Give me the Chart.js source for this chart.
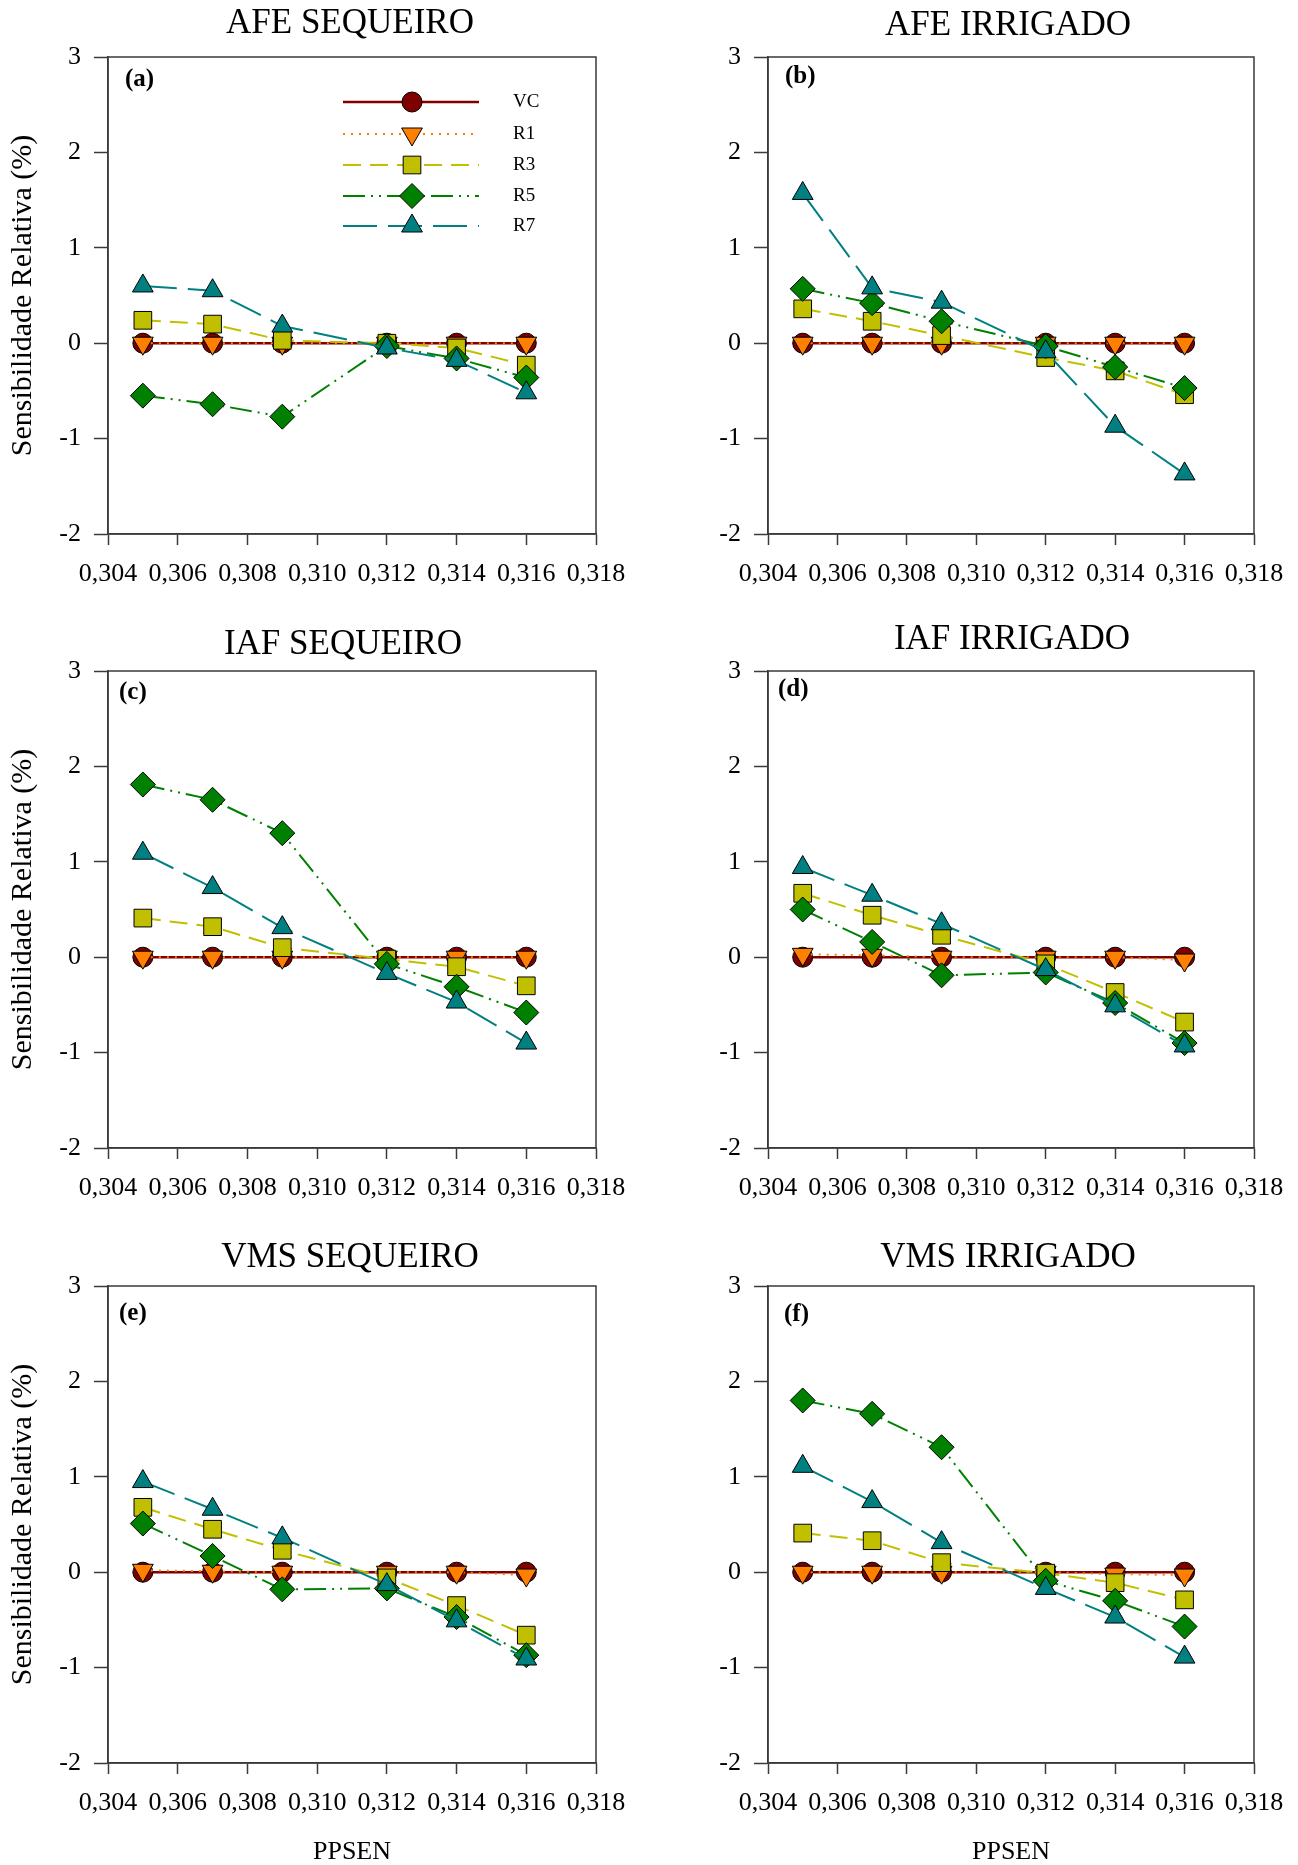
<!DOCTYPE html>
<html>
<head>
<meta charset="utf-8">
<script src="https://cdn.jsdelivr.net/npm/chart.js@4.4.1/dist/chart.umd.min.js"></script>
<style>
  html, body { margin: 0; padding: 0; background: #fff; }
  body { width: 1298px; height: 1865px; position: relative; overflow: hidden; }
  canvas { position: absolute; }
</style>
</head>
<body>
<canvas id="pa"></canvas>
<canvas id="pb"></canvas>
<canvas id="pc"></canvas>
<canvas id="pd"></canvas>
<canvas id="pe"></canvas>
<canvas id="pf"></canvas>
<script>
// PPSEN values and axis ticks
const xValues = [0.305, 0.307, 0.309, 0.312, 0.314, 0.316];
const xTicks = [0.304, 0.306, 0.308, 0.310, 0.312, 0.314, 0.316, 0.318];
const yTicks = [-2, -1, 0, 1, 2, 3];
const seriesNames = ['VC', 'R1', 'R3', 'R5', 'R7'];

// (a) AFE SEQUEIRO
const aVC = [0, 0, 0, 0, 0, 0];
const aR1 = [0, 0, 0, 0, 0, 0];
const aR3 = [0.24, 0.20, 0.03, 0.00, -0.05, -0.23];
const aR5 = [-0.55, -0.64, -0.77, -0.03, -0.16, -0.36];
const aR7 = [0.60, 0.55, 0.18, -0.05, -0.18, -0.52];

// (b) AFE IRRIGADO
const bVC = [0, 0, 0, 0, 0, 0];
const bR1 = [0, 0, 0, 0, 0, 0];
const bR3 = [0.36, 0.23, 0.08, -0.15, -0.29, -0.54];
const bR5 = [0.57, 0.42, 0.23, -0.03, -0.25, -0.47];
const bR7 = [1.57, 0.58, 0.43, -0.09, -0.87, -1.37];

// (c) IAF SEQUEIRO
const cVC = [0, 0, 0, 0, 0, 0];
const cR1 = [0, 0, 0, 0, 0, 0];
const cR3 = [0.41, 0.32, 0.10, -0.02, -0.10, -0.30];
const cR5 = [1.81, 1.65, 1.30, -0.07, -0.31, -0.58];
const cR7 = [1.09, 0.73, 0.31, -0.17, -0.47, -0.90];

// (d) IAF IRRIGADO
const dVC = [0, 0, 0, 0, 0, 0];
const dR1 = [0.03, 0.02, 0, 0, 0, -0.03];
const dR3 = [0.67, 0.44, 0.23, -0.07, -0.37, -0.68];
const dR5 = [0.50, 0.16, -0.19, -0.16, -0.48, -0.90];
const dR7 = [0.94, 0.65, 0.35, -0.13, -0.51, -0.93];

// (e) VMS SEQUEIRO
const eVC = [0, 0, 0, 0, 0, 0];
const eR1 = [0.02, 0.01, 0, 0, 0, -0.03];
const eR3 = [0.68, 0.45, 0.23, -0.06, -0.35, -0.66];
const eR5 = [0.51, 0.17, -0.18, -0.17, -0.47, -0.87];
const eR7 = [0.95, 0.66, 0.36, -0.13, -0.51, -0.91];

// (f) VMS IRRIGADO
const fVC = [0, 0, 0, 0, 0, 0];
const fR1 = [0, 0, 0, 0, -0.02, -0.03];
const fR3 = [0.41, 0.33, 0.10, -0.01, -0.11, -0.29];
const fR5 = [1.80, 1.66, 1.31, -0.09, -0.30, -0.57];
const fR7 = [1.11, 0.74, 0.31, -0.17, -0.47, -0.89];

const serif = "'Liberation Serif', 'Times New Roman', serif";
const frameColor = '#3a3a3a';

const seriesStyle = [
  { line: '#800000', fill: '#800000', dash: [], width: 2.5, point: 'circle', radius: 10, rot: 0 },
  { line: '#ff8000', fill: '#ff8000', dash: [2, 6], width: 2, point: 'triangle', radius: 12, rot: 180 },
  { line: '#c0c000', fill: '#c0c000', dash: [18, 9], width: 2, point: 'rect', radius: 12.5, rot: 0 },
  { line: '#008000', fill: '#008000', dash: [22, 6, 2, 6, 2, 6], width: 2, point: 'rectRot', radius: 12.5, rot: 0 },
  { line: '#008080', fill: '#008080', dash: [34, 11], width: 2, point: 'triangle', radius: 12, rot: 0 }
];

const panels = [
  { id: 'pa', title: 'AFE SEQUEIRO', tag: '(a)', series: [aVC, aR1, aR3, aR5, aR7], col: 0, top: 0, h: 614,
    titleDx: -2, titleDy: -33, tagDx: 17, tagDy: 23, legend: true },
  { id: 'pb', title: 'AFE IRRIGADO', tag: '(b)', series: [bVC, bR1, bR3, bR5, bR7], col: 1, top: 0, h: 614,
    titleDx: -3, titleDy: -31, tagDx: 17, tagDy: 20 },
  { id: 'pc', title: 'IAF SEQUEIRO', tag: '(c)', series: [cVC, cR1, cR3, cR5, cR7], col: 0, top: 614, h: 615,
    titleDx: -9, titleDy: -26, tagDx: 11, tagDy: 22 },
  { id: 'pd', title: 'IAF IRRIGADO', tag: '(d)', series: [dVC, dR1, dR3, dR5, dR7], col: 1, top: 614, h: 615,
    titleDx: 1, titleDy: -31, tagDx: 10, tagDy: 19 },
  { id: 'pe', title: 'VMS SEQUEIRO', tag: '(e)', series: [eVC, eR1, eR3, eR5, eR7], col: 0, top: 1229, h: 636,
    titleDx: -2, titleDy: -28, tagDx: 11, tagDy: 28, xTitle: true },
  { id: 'pf', title: 'VMS IRRIGADO', tag: '(f)', series: [fVC, fR1, fR3, fR5, fR7], col: 1, top: 1229, h: 636,
    titleDx: -3, titleDy: -28, tagDx: 16, tagDy: 29, xTitle: true }
];

function drawMarker(ctx, st, x, y) {
  ctx.setLineDash([]);
  ctx.fillStyle = st.fill;
  ctx.strokeStyle = '#000';
  ctx.lineWidth = 1;
  Chart.helpers.drawPoint(ctx, { pointStyle: st.point, rotation: st.rot, radius: st.radius, borderWidth: 1 }, x, y);
}

function drawLegend(chart, ctx) {
  const a = chart.chartArea;
  const x1 = a.left + 235, x2 = a.left + 371, xm = a.left + 304, xt = a.left + 405;
  const rows = [45, 77, 108, 139, 169];
  seriesNames.forEach(function (name, i) {
    const st = seriesStyle[i];
    const y = a.top + rows[i];
    ctx.beginPath();
    ctx.setLineDash(st.dash);
    ctx.strokeStyle = st.line;
    ctx.lineWidth = st.width;
    ctx.moveTo(x1, y);
    ctx.lineTo(x2, y);
    ctx.stroke();
    drawMarker(ctx, st, xm, y);
    ctx.fillStyle = '#000';
    ctx.font = '19px ' + serif;
    ctx.textAlign = 'left';
    ctx.textBaseline = 'middle';
    ctx.fillText(name, xt, y);
  });
}

const panelDecor = {
  id: 'panelDecor',
  afterDraw(chart, args, o) {
    const ctx = chart.ctx;
    const a = chart.chartArea;
    ctx.save();
    ctx.setLineDash([]);
    ctx.strokeStyle = frameColor;
    ctx.lineWidth = 1.5;
    ctx.strokeRect(a.left, a.top, a.right - a.left, a.bottom - a.top);
    ctx.fillStyle = '#000';
    ctx.textAlign = 'center';
    ctx.textBaseline = 'middle';
    ctx.font = '35px ' + serif;
    ctx.fillText(o.title, (a.left + a.right) / 2 + o.titleDx, a.top + o.titleDy);
    ctx.textAlign = 'left';
    ctx.font = 'bold 25px ' + serif;
    ctx.fillText(o.tag, a.left + o.tagDx, a.top + o.tagDy);
    if (o.legend) drawLegend(chart, ctx);
    ctx.restore();
  }
};

panels.forEach(function (p) {
  const cv = document.getElementById(p.id);
  cv.width = 649;
  cv.height = p.h;
  cv.style.left = (p.col * 649) + 'px';
  cv.style.top = p.top + 'px';

  const isLeft = p.col === 0;
  const yAxisW = isLeft ? 108 : 119;
  const padRight = isLeft ? 53 : 44;
  const plotBottom = 534;
  const xAxisH = p.xTitle ? p.h - plotBottom : 60;
  const padBottom = p.h - plotBottom - xAxisH;

  const datasets = p.series.map(function (vals, i) {
    const st = seriesStyle[i];
    return {
      label: seriesNames[i],
      data: xValues.map(function (x, k) { return { x: x, y: vals[k] }; }),
      borderColor: st.line,
      borderWidth: st.width,
      borderDash: st.dash,
      pointStyle: st.point,
      pointRadius: st.radius,
      pointRotation: st.rot,
      pointBackgroundColor: st.fill,
      pointBorderColor: '#000',
      pointBorderWidth: 1,
      fill: false,
      tension: 0,
      order: 5 - i
    };
  });

  new Chart(cv.getContext('2d'), {
    type: 'line',
    data: { datasets: datasets },
    plugins: [panelDecor],
    options: {
      responsive: false,
      animation: false,
      devicePixelRatio: 1,
      events: [],
      layout: { padding: { top: 57, left: 0, right: padRight, bottom: padBottom } },
      plugins: {
        legend: { display: false },
        tooltip: { enabled: false },
        title: { display: false },
        panelDecor: { title: p.title, tag: p.tag, titleDx: p.titleDx, titleDy: p.titleDy,
                      tagDx: p.tagDx, tagDy: p.tagDy, legend: !!p.legend }
      },
      scales: {
        x: {
          type: 'linear',
          min: 0.304,
          max: 0.318,
          afterBuildTicks: function (s) { s.ticks = xTicks.map(function (v) { return { value: v }; }); },
          afterFit: function (s) { s.height = xAxisH; },
          grid: { drawOnChartArea: false, drawTicks: true, tickLength: 11, tickColor: frameColor, tickWidth: 1.5 },
          border: { display: true, color: frameColor, width: 1.5 },
          ticks: {
            autoSkip: false, maxRotation: 0, padding: 14, color: '#000',
            font: { family: serif, size: 26 },
            callback: function (v) { return Number(v).toFixed(3).replace('.', ','); }
          },
          title: {
            display: !!p.xTitle, text: 'PPSEN', color: '#000',
            font: { family: serif, size: 26, lineHeight: 1 }, padding: { top: 0, bottom: 0 }
          }
        },
        y: {
          min: -2,
          max: 3,
          afterBuildTicks: function (s) { s.ticks = yTicks.map(function (v) { return { value: v }; }); },
          afterFit: function (s) { s.width = yAxisW; },
          grid: { drawOnChartArea: false, drawTicks: true, tickLength: 14, tickColor: frameColor, tickWidth: 1.5 },
          border: { display: true, color: frameColor, width: 1.5 },
          ticks: {
            padding: 13, color: '#000',
            font: { family: serif, size: 26 },
            callback: function (v) { return String(v); }
          },
          title: {
            display: isLeft, text: 'Sensibilidade Relativa (%)', color: '#000',
            font: { family: serif, size: 30 }, padding: { top: 5, bottom: 0 }
          }
        }
      }
    }
  });
});
</script>
</body>
</html>
